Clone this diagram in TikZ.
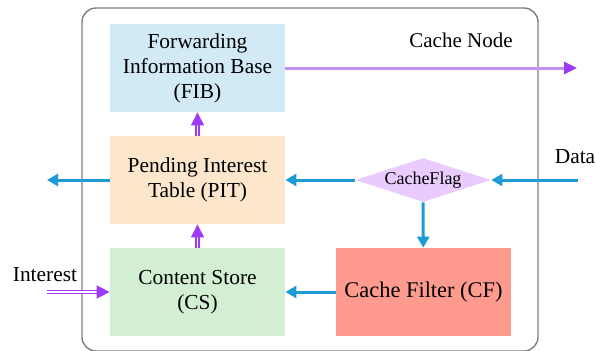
\documentclass[tikz,border=0pt]{standalone}
\usepackage{fontspec}
\setmainfont{Liberation Serif}
\usetikzlibrary{shapes.geometric,arrows.meta}
\definecolor{fibfill}{HTML}{D2EAF6}
\definecolor{pitfill}{HTML}{FCE7CD}
\definecolor{csfill}{HTML}{D3EFD3}
\definecolor{cffill}{HTML}{FF9A8F}
\definecolor{flagfill}{HTML}{E9CBFD}
\definecolor{flowblue}{HTML}{1E9BD7}
\definecolor{lightpurple}{HTML}{C291F7}
\definecolor{tippurple}{HTML}{9B3AF7}
\definecolor{framegray}{HTML}{7F7F7F}
\begin{document}
\begin{tikzpicture}[x=0.5pt,y=-0.5pt,
  block/.style={minimum width=87.5pt,minimum height=44pt,inner sep=0pt,align=center,
    font=\fontsize{10.7}{12.5}\selectfont},
  dataflow/.style={draw=flowblue,line width=1.5pt,-{Triangle[length=5.5pt,width=6pt]}},
  intflow/.style={draw=tippurple,line width=0.75pt,double=white,double distance=0.75pt,
    -{Triangle[length=6.5pt,width=6.5pt]}}]
   \useasboundingbox (0,0) rectangle (596,350);

   % Cache Node
   \draw[framegray,line width=0.7pt,rounded corners=7pt] (82,8) rectangle (538,351);
   \node (cachenode) at (461,40) {\fontsize{10.5}{12.5}\selectfont Cache Node};

   % Blöcke
   \node[block,fill=fibfill] (fib) at (197.5,68) {Forwarding\\Information Base\\(FIB)};
   \node[block,fill=pitfill] (pit) at (197.5,180) {Pending Interest\\Table (PIT)};
   \node[block,fill=csfill] (cs) at (197.5,292) {Content Store\\(CS)};
   \node[block,fill=cffill,font=\fontsize{11.2}{13}\selectfont] (cf) at (423.5,292) {Cache Filter (CF)};
   \node[diamond,aspect=3.1,fill=flagfill,inner sep=0pt,minimum width=68pt,minimum height=22pt,
     font=\fontsize{9}{10}\selectfont] (flag) at (423,180) {CacheFlag};

   % Ein- und Ausgänge
   \coordinate (fibout) at (577,68);
   \coordinate (pitout) at (47,180);
   \coordinate (datain) at (578,180);
   \coordinate (intin) at (47,292);
   \node (data) at (575,157) {\fontsize{10.7}{12.5}\selectfont Data};
   \node (interest) at (45,275) {\fontsize{10.7}{12.5}\selectfont Interest};

   % Interest-Pfad
   \draw[intflow] (intin) -- (cs);
   \draw[intflow] (cs) -- (pit);
   \draw[intflow] (pit) -- (fib);
   \draw[lightpurple,line width=1.5pt,-{Triangle[length=6.5pt,width=6pt,color=tippurple]}] (fib) -- (fibout);

   % Data-Pfad
   \draw[dataflow] (datain) -- (flag);
   \draw[dataflow] (flag) -- (pit);
   \draw[dataflow] (flag) -- (cf);
   \draw[dataflow] (cf) -- (cs);
   \draw[dataflow] (pit) -- (pitout);
\end{tikzpicture}
\end{document}
